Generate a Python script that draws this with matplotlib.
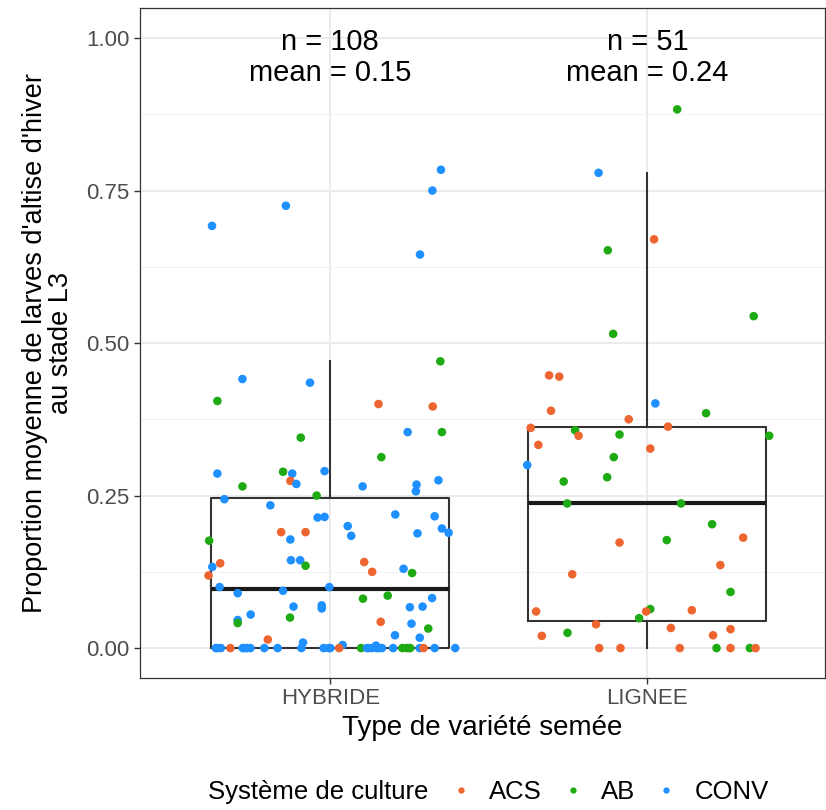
import numpy as np
import matplotlib
matplotlib.use("Agg")
import matplotlib.pyplot as plt
from matplotlib.lines import Line2D

plt.rcParams['font.family'] = ['Liberation Sans', 'DejaVu Sans']

categories = ['HYBRIDE', 'LIGNEE']
systems = ['ACS', 'AB', 'CONV']
colors = {'ACS': '#EF6530', 'AB': '#1DAA12', 'CONV': '#1E90FF'}

# HYBRIDE: values, horizontal jitter, system
hyb_y = [0.692, 0.725, 0.784, 0.750, 0.645, 0.470, 0.441, 0.435, 0.405, 0.400, 0.396,
         0.354, 0.354, 0.345, 0.313, 0.286, 0.289, 0.286, 0.274, 0.269, 0.290,
         0.265, 0.265, 0.268, 0.257, 0.275, 0.250, 0.244, 0.234, 0.214, 0.215,
         0.219, 0.216, 0.200, 0.184, 0.196, 0.189, 0.188, 0.190, 0.190, 0.178,
         0.176, 0.144, 0.144, 0.135, 0.139, 0.133, 0.119, 0.141, 0.125, 0.130,
         0.123, 0.100, 0.094, 0.100, 0.090, 0.081, 0.086, 0.082, 0.068, 0.070,
         0.065, 0.067, 0.068, 0.055, 0.046, 0.041, 0.050, 0.043, 0.040, 0.032,
         0.021, 0.017, 0.014, 0.009, 0.005, 0.004,
         0, 0, 0, 0, 0, 0, 0, 0, 0, 0, 0, 0, 0, 0, 0, 0, 0, 0, 0, 0, 0, 0, 0, 0, 0,
         0, 0, 0, 0, 0, 0]
hyb_dx = [-0.373, -0.140, 0.349, 0.322, 0.283, 0.347, -0.277, -0.064, -0.356, 0.152, 0.323,
          0.244, 0.352, -0.093, 0.161, -0.356, -0.149, -0.120, -0.126, -0.107, -0.018,
          -0.277, 0.102, 0.272, 0.270, 0.341, -0.043, -0.334, -0.189, -0.040, -0.018,
          0.205, 0.329, 0.055, 0.066, 0.352, 0.373, 0.275, -0.155, -0.078, -0.126,
          -0.382, -0.124, -0.095, -0.078, -0.347, -0.372, -0.384, 0.107, 0.132, 0.231,
          0.258, -0.349, -0.149, -0.003, -0.292, 0.103, 0.181, 0.321, -0.116, -0.027,
          -0.027, 0.251, 0.291, -0.251, -0.292, -0.292, -0.127, 0.159, 0.256, 0.309,
          0.204, 0.282, -0.197, -0.086, 0.039, 0.144,
          -0.361, -0.345, -0.315, -0.276, -0.263, -0.252, -0.208, -0.166, -0.091, -0.021,
          -0.005, 0.028, 0.097, 0.116, 0.132, 0.147, 0.163, 0.198, 0.227, 0.247,
          0.252, 0.282, 0.294, 0.329, 0.394,
          -0.355, -0.270, 0.120, 0.155, 0.000, 0.240]
hyb_sys = ['CONV', 'CONV', 'CONV', 'CONV', 'CONV', 'AB', 'CONV', 'CONV', 'AB', 'ACS', 'ACS',
           'CONV', 'AB', 'AB', 'AB', 'CONV', 'AB', 'CONV', 'ACS', 'CONV', 'CONV',
           'AB', 'CONV', 'CONV', 'CONV', 'CONV', 'AB', 'CONV', 'CONV', 'CONV', 'CONV',
           'CONV', 'CONV', 'CONV', 'CONV', 'CONV', 'CONV', 'CONV', 'ACS', 'ACS', 'CONV',
           'AB', 'CONV', 'CONV', 'AB', 'ACS', 'CONV', 'ACS', 'ACS', 'ACS', 'CONV',
           'AB', 'CONV', 'CONV', 'CONV', 'CONV', 'AB', 'AB', 'CONV', 'CONV', 'CONV',
           'CONV', 'CONV', 'CONV', 'CONV', 'CONV', 'AB', 'AB', 'ACS', 'CONV', 'AB',
           'CONV', 'CONV', 'ACS', 'CONV', 'CONV', 'CONV',
           'CONV', 'CONV', 'ACS', 'CONV', 'CONV', 'CONV', 'CONV', 'CONV', 'CONV', 'CONV',
           'CONV', 'ACS', 'AB', 'CONV', 'CONV', 'CONV', 'CONV', 'CONV', 'AB', 'ACS',
           'AB', 'CONV', 'ACS', 'CONV', 'CONV',
           'CONV', 'CONV', 'CONV', 'CONV', 'CONV', 'AB']

# LIGNEE
lig_y = [0.883, 0.779, 0.670, 0.652, 0.544, 0.515, 0.447, 0.445, 0.401,
         0.389, 0.385, 0.375, 0.363, 0.361, 0.357, 0.348, 0.350, 0.348, 0.333,
         0.327, 0.313, 0.300, 0.273, 0.280, 0.237, 0.237, 0.203, 0.181, 0.173,
         0.177, 0.136, 0.121, 0.092, 0.060, 0.064, 0.060, 0.062, 0.049, 0.039,
         0.033, 0.031, 0.020, 0.025, 0.021,
         0, 0, 0, 0, 0, 0, 0]
lig_dx = [0.094, -0.154, 0.021, -0.125, 0.335, -0.108, -0.310, -0.278, 0.025,
          -0.304, 0.185, -0.059, 0.065, -0.368, -0.228, -0.217, -0.088, 0.384, -0.344,
          0.009, -0.106, -0.379, -0.264, -0.127, -0.253, 0.106, 0.204, 0.302, -0.088,
          0.061, 0.230, -0.237, 0.262, -0.351, 0.009, -0.004, 0.140, -0.026, -0.162,
          0.074, 0.262, -0.333, -0.252, 0.207,
          -0.152, -0.085, 0.102, 0.218, 0.262, 0.323, 0.341]
lig_sys = ['AB', 'CONV', 'ACS', 'AB', 'AB', 'AB', 'ACS', 'ACS', 'CONV',
           'ACS', 'AB', 'ACS', 'ACS', 'ACS', 'AB', 'ACS', 'AB', 'AB', 'ACS',
           'ACS', 'AB', 'CONV', 'AB', 'AB', 'AB', 'AB', 'AB', 'ACS', 'ACS',
           'AB', 'ACS', 'ACS', 'AB', 'ACS', 'AB', 'ACS', 'ACS', 'AB', 'ACS',
           'ACS', 'ACS', 'ACS', 'AB', 'ACS',
           'ACS', 'ACS', 'ACS', 'AB', 'ACS', 'AB', 'ACS']

labels = ['n = 108\nmean = 0.15', 'n = 51\nmean = 0.24']

fig = plt.figure(figsize=(8.26, 8.10), dpi=100)
ax = fig.add_axes([0.1695, 0.163, 0.8293, 0.827])

groups = [(hyb_y, hyb_dx, hyb_sys), (lig_y, lig_dx, lig_sys)]

ax.boxplot([hyb_y, lig_y], positions=[1, 2], widths=0.75, showfliers=False,
           boxprops=dict(color='#333333', linewidth=1.5),
           whiskerprops=dict(color='#333333', linewidth=1.5),
           capprops=dict(linewidth=0),
           medianprops=dict(color='#1a1a1a', linewidth=3.0),
           zorder=2)

for i, (ys, dxs, ss) in enumerate(groups):
    xs = np.array(dxs) + i + 1
    cs = [colors[s] for s in ss]
    ax.scatter(xs, ys, s=38, c=cs, linewidths=0, zorder=3)
    ax.text(i + 1, 0.968, labels[i], ha='center', va='center', fontsize=21,
            linespacing=1.12, color='black', zorder=4)

ax.set_xlim(0.4, 2.56)
ax.set_ylim(-0.049, 1.049)
ax.set_xticks([1, 2])
ax.set_xticklabels(categories)
ax.set_yticks([0, 0.25, 0.5, 0.75, 1.0])
ax.set_yticklabels(['0.00', '0.25', '0.50', '0.75', '1.00'])
ax.set_yticks([0.125, 0.375, 0.625, 0.875], minor=True)
ax.tick_params(axis='both', which='major', labelsize=16, labelcolor='#4D4D4D',
               color='#333333', length=4, width=1)
ax.tick_params(axis='y', which='minor', length=0)
ax.grid(which='major', color='#EBEBEB', linewidth=1.4, zorder=0)
ax.grid(which='minor', axis='y', color='#F2F2F2', linewidth=0.8, zorder=0)
ax.set_axisbelow(True)
for sp in ax.spines.values():
    sp.set_color('#333333')
    sp.set_linewidth(0.9)

ax.set_xlabel('Type de variété semée', fontsize=20, labelpad=4)
ax.set_ylabel("Proportion moyenne de larves d'altise d'hiver\nau stade L3",
              fontsize=19.5, labelpad=9, linespacing=1.0)

fig.text(208 / 826, 1 - 792 / 810, 'Système de culture', fontsize=18.5,
         va='center', ha='left')
handles = [Line2D([], [], marker='o', linestyle='', markersize=4.5,
                  markerfacecolor=colors[s], markeredgewidth=0) for s in systems]
fig.legend(handles, systems, loc='center left', bbox_to_anchor=(448 / 826, 1 - 792 / 810),
           ncol=3, frameon=False, fontsize=18.5, handletextpad=0.6,
           columnspacing=0.7, handlelength=1.0, borderaxespad=0, borderpad=0)

fig.savefig('out.png', dpi=100)
